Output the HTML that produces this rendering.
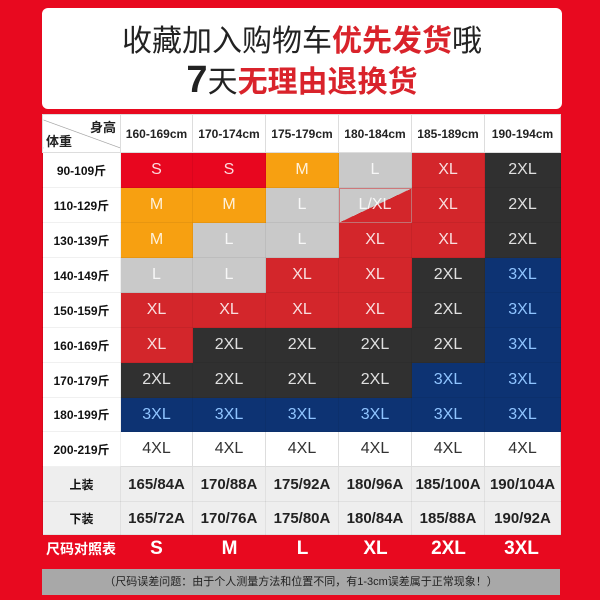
<!DOCTYPE html>
<html><head><meta charset="utf-8"><style>
*{margin:0;padding:0;box-sizing:border-box}
body{width:600px;height:600px;background:#e8091f;position:relative;overflow:hidden;font-family:"Liberation Sans","Noto Sans CJK SC",sans-serif}
.top{position:absolute;left:42px;top:8px;width:520px;height:101px;background:#fff;border-radius:6px;text-align:center}
.l1{position:absolute;top:14px;width:100%;font-size:30px;color:#222;line-height:40px}
.l2{position:absolute;top:50px;width:100%;font-size:30px;color:#222;line-height:44px}
.r{color:#d9232b;font-weight:bold}
table{position:absolute;left:42px;top:114px;border-collapse:collapse;table-layout:fixed}
td{text-align:center;color:rgba(255,255,255,.85);font-size:16px;padding:0;border:1px solid rgba(0,0,0,.06)}
td.lab{background:#fff;color:#111;font-size:12px;font-weight:bold;width:78px}
tr.h td{background:#fff;color:#222;font-size:12px;font-weight:bold;height:38px;border:1px solid #ddd}
.R{background:#d3262b}.B{background:#e8061f}.O{background:#f7a011}.G{background:#c9c9c9}.K{background:#303030}.N{background:#0d3373;color:#8fc4ff}
.D{background:linear-gradient(to bottom right,#c9c9c9 50%,#d3262b 50%)}
td.W{background:#fff;color:#333;border:1px solid #ddd}
td.E{background:#eee;color:#222;font-size:15px;font-weight:bold;border-left:1px solid #ddd}
td.EL{background:#eee;color:#111;font-size:12px;font-weight:bold}
.foot{position:absolute;left:42px;top:532px;width:518px;height:34px;display:flex;color:#fff;font-weight:bold;align-items:center}
.foot div{width:73px;text-align:center;font-size:19px}
.note{position:absolute;left:42px;top:569px;width:518px;height:26px;background:#a8a8a8;color:#222;font-size:11px;text-align:center;line-height:26px}
</style></head><body>
<div class="top">
<div class="l1">收藏加入购物车<span class="r">优先发货</span>哦</div>
<div class="l2"><span style="font-size:38px;font-weight:bold">7</span>天<span class="r">无理由退换货</span></div>
</div>
<table>
<colgroup><col style="width:78px"><col style="width:72px"><col style="width:73px"><col style="width:73px"><col style="width:73px"><col style="width:73px"><col style="width:76px"></colgroup>
<tr class="h"><td style="background:linear-gradient(20deg,#fff 49%,#999 50%,#fff 51%);text-align:left;font-size:13px;position:relative"><span style="position:absolute;right:4px;top:2px">身高</span><span style="position:absolute;left:3px;bottom:2px">体重</span></td><td>160-169cm</td><td>170-174cm</td><td>175-179cm</td><td>180-184cm</td><td>185-189cm</td><td>190-194cm</td></tr>
<tr style="height:35px"><td class="lab">90-109斤</td><td class="B">S</td><td class="B">S</td><td class="O">M</td><td class="G">L</td><td class="R">XL</td><td class="K">2XL</td></tr>
<tr style="height:35px"><td class="lab">110-129斤</td><td class="O">M</td><td class="O">M</td><td class="G">L</td><td class="D">L/XL</td><td class="R">XL</td><td class="K">2XL</td></tr>
<tr style="height:35px"><td class="lab">130-139斤</td><td class="O">M</td><td class="G">L</td><td class="G">L</td><td class="R">XL</td><td class="R">XL</td><td class="K">2XL</td></tr>
<tr style="height:35px"><td class="lab">140-149斤</td><td class="G">L</td><td class="G">L</td><td class="R">XL</td><td class="R">XL</td><td class="K">2XL</td><td class="N">3XL</td></tr>
<tr style="height:35px"><td class="lab">150-159斤</td><td class="R">XL</td><td class="R">XL</td><td class="R">XL</td><td class="R">XL</td><td class="K">2XL</td><td class="N">3XL</td></tr>
<tr style="height:35px"><td class="lab">160-169斤</td><td class="R">XL</td><td class="K">2XL</td><td class="K">2XL</td><td class="K">2XL</td><td class="K">2XL</td><td class="N">3XL</td></tr>
<tr style="height:35px"><td class="lab">170-179斤</td><td class="K">2XL</td><td class="K">2XL</td><td class="K">2XL</td><td class="K">2XL</td><td class="N">3XL</td><td class="N">3XL</td></tr>
<tr style="height:34px"><td class="lab">180-199斤</td><td class="N">3XL</td><td class="N">3XL</td><td class="N">3XL</td><td class="N">3XL</td><td class="N">3XL</td><td class="N">3XL</td></tr>
<tr style="height:35px"><td class="lab">200-219斤</td><td class="W">4XL</td><td class="W">4XL</td><td class="W">4XL</td><td class="W">4XL</td><td class="W">4XL</td><td class="W">4XL</td></tr>
<tr style="height:35px"><td class="EL">上装</td><td class="E">165/84A</td><td class="E">170/88A</td><td class="E">175/92A</td><td class="E">180/96A</td><td class="E">185/100A</td><td class="E">190/104A</td></tr>
<tr style="height:33px"><td class="EL">下装</td><td class="E">165/72A</td><td class="E">170/76A</td><td class="E">175/80A</td><td class="E">180/84A</td><td class="E">185/88A</td><td class="E">190/92A</td></tr>
</table>
<div class="foot"><div style="width:78px;font-size:14px">尺码对照表</div><div>S</div><div>M</div><div>L</div><div>XL</div><div>2XL</div><div>3XL</div></div>
<div class="note">（尺码误差问题：由于个人测量方法和位置不同，有1-3cm误差属于正常现象！）</div>
</body></html>
